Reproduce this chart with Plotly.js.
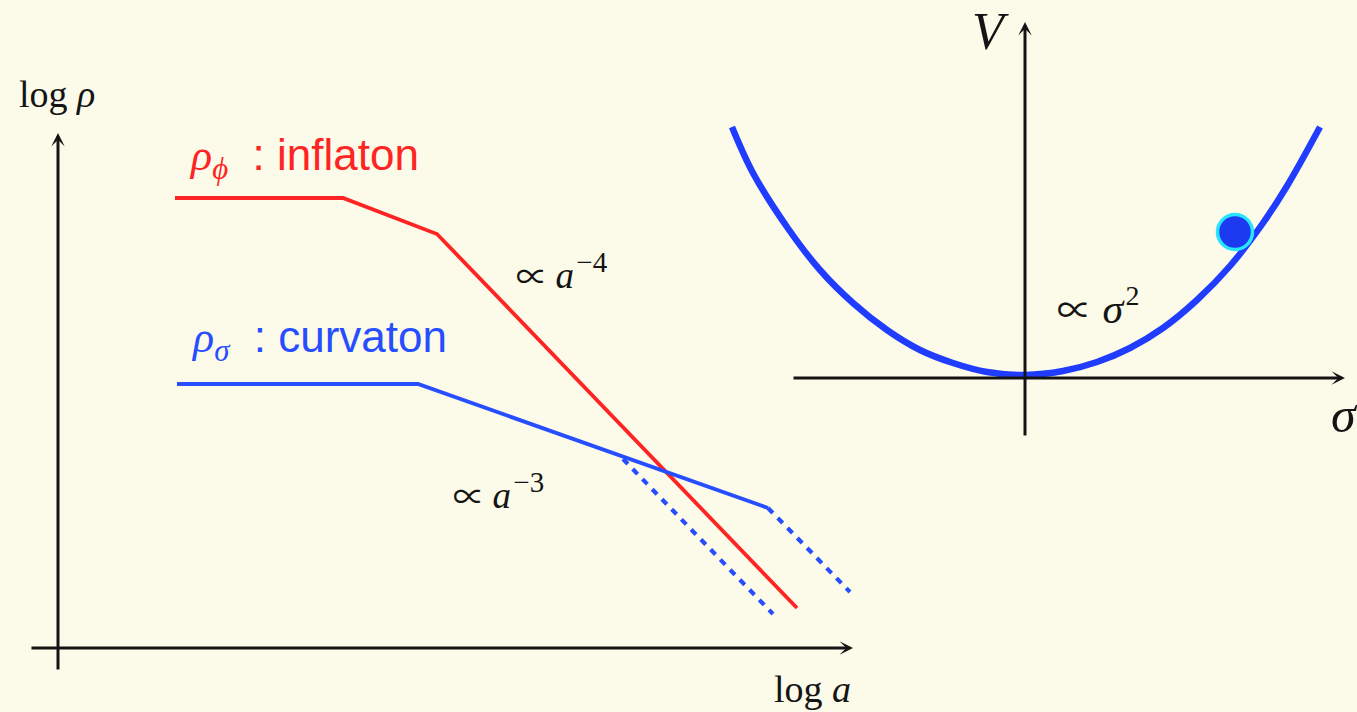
<!DOCTYPE html>
<html>
<head>
<meta charset="utf-8">
<script src="https://cdn.plot.ly/plotly-3.0.1.min.js"></script>
<style>
  html, body { margin: 0; padding: 0; background: #fcfae8; }
  #chart { width: 1357px; height: 712px; }
</style>
</head>
<body>
<div id="chart"></div>
<script>
// ---------- Left panel: log rho vs log a (schematic values) ----------
const inflatonLogA   = [1.17, 2.85, 3.79, 7.39];
const inflatonLogRho = [4.50, 4.50, 4.14, 0.40];

const curvatonLogA   = [1.19, 3.60, 7.10];
const curvatonLogRho = [2.64, 2.64, 1.40];

const curvatonLateLogA   = [7.10, 7.92];
const curvatonLateLogRho = [1.40, 0.56];

const curvatonEarlyLogA   = [5.65, 7.15];
const curvatonEarlyLogRho = [1.89, 0.34];

// ---------- Right panel: potential V(sigma) ----------
const sigmaVals     = [-2.93, -2.72, -2.38, -2.05, -1.72, -1.38, -1.05, -0.72, -0.38, 0.00, 0.38, 0.72, 1.05, 1.38, 1.72, 2.05, 2.38, 2.62, 2.95];
const potentialVals = [ 2.51,  2.05,  1.51,  1.08,  0.75,  0.48,  0.28,  0.15,  0.06, 0.03, 0.07, 0.16, 0.30, 0.50, 0.78, 1.12, 1.55, 1.92, 2.51];

const ballSigma = [2.10];
const ballV     = [1.46];

// ---------- Colours ----------
const RED = 'rgb(255,36,36)';
const BLUE = 'rgb(38,78,255)';
const PBLUE = 'rgb(32,60,255)';
const INK = '#141414';
const SERIF = 'Liberation Serif, DejaVu Serif, serif';
const SANS = 'Liberation Sans, Arial, sans-serif';

const traces = [
  { x: inflatonLogA, y: inflatonLogRho, mode: 'lines', line: { color: RED, width: 3.8 }, xaxis: 'x', yaxis: 'y', hoverinfo: 'skip' },
  { x: curvatonLogA, y: curvatonLogRho, mode: 'lines', line: { color: BLUE, width: 3.8 }, xaxis: 'x', yaxis: 'y', hoverinfo: 'skip' },
  { x: curvatonLateLogA, y: curvatonLateLogRho, mode: 'lines', line: { color: BLUE, width: 4.2, dash: '7px,7px' }, xaxis: 'x', yaxis: 'y', hoverinfo: 'skip' },
  { x: curvatonEarlyLogA, y: curvatonEarlyLogRho, mode: 'lines', line: { color: BLUE, width: 4.2, dash: '7px,7px' }, xaxis: 'x', yaxis: 'y', hoverinfo: 'skip' },
  { x: sigmaVals, y: potentialVals, mode: 'lines', line: { color: PBLUE, width: 6.5, shape: 'spline', smoothing: 1 }, xaxis: 'x2', yaxis: 'y2', hoverinfo: 'skip' },
  { x: ballSigma, y: ballV, mode: 'markers', marker: { size: 35, color: 'rgb(28,58,240)', line: { color: 'rgb(40,228,255)', width: 3.5 } }, xaxis: 'x2', yaxis: 'y2', hoverinfo: 'skip' }
];

function arrow(xref, yref, tail, tip) {
  return {
    xref: xref, yref: yref, axref: xref, ayref: yref,
    x: tip[0], y: tip[1], ax: tail[0], ay: tail[1],
    showarrow: true, arrowhead: 3, arrowsize: 0.75, arrowwidth: 3,
    arrowcolor: INK, standoff: 0, text: '', font: { size: 12 }
  };
}

function label(xref, yref, x, y, text, font, xanchor) {
  return {
    xref: xref, yref: yref, x: x, y: y, text: text, showarrow: false,
    xanchor: xanchor || 'center', yanchor: 'middle', font: font
  };
}

function power(base, exp, supSize, gap, propSize) {
  return '<span style="font-family:Noto Sans CJK JP,DejaVu Sans,sans-serif;font-size:' + propSize + 'px">∝</span>' + gap +
    '<i>' + base + '</i><sup><span style="font-size:' + supSize + 'px">\u200a' + exp + '</span></sup>';
}

const annotations = [
  // axes of left panel
  arrow('x', 'y', [-0.28, 0], [7.95, 0]),
  arrow('x', 'y', [0, -0.23], [0, 5.15]),
  // axes of right panel
  arrow('x2', 'y2', [-2.33, 0], [3.20, 0]),
  arrow('x2', 'y2', [0, -0.59], [0, 3.56]),

  label('x', 'y', -0.01, 5.54, 'log <i>ρ</i>', { family: SERIF, size: 38, color: INK }),
  label('x', 'y', 7.54, -0.41, 'log <i>a</i>', { family: SERIF, size: 38, color: INK }),

  label('x', 'y', 1.29, 4.90,
    '<span style="font-family:Liberation Serif,serif"><i>ρ</i><sub><i>ϕ</i></sub></span>\u00a0\u00a0: inflaton',
    { family: SANS, size: 44, color: RED }, 'left'),
  label('x', 'y', 1.31, 3.08,
    '<span style="font-family:Liberation Serif,serif"><i>ρ</i><sub><i>σ</i></sub></span>\u00a0\u00a0: curvaton',
    { family: SANS, size: 44, color: BLUE }, 'left'),

  label('x', 'y', 4.56, 3.77, power('a', '−4', 29, '\u2009', 32), { family: SERIF, size: 37, color: INK }, 'left'),
  label('x', 'y', 3.93, 1.57, power('a', '−3', 29, '\u2009', 32), { family: SERIF, size: 37, color: INK }, 'left'),

  label('x2', 'y2', -0.35, 3.47, '<i>V</i>', { family: SERIF, size: 52, color: INK }),
  label('x2', 'y2', 3.19, -0.37, '<i>σ</i>', { family: SERIF, size: 50, color: INK }),
  label('x2', 'y2', 0.30, 0.72, power('σ', '2', 28, '\u2005', 35), { family: SERIF, size: 42, color: INK }, 'left')
];

const layout = {
  width: 1357, height: 712,
  margin: { l: 0, r: 0, t: 0, b: 0 },
  paper_bgcolor: '#fcfae8',
  plot_bgcolor: 'rgba(0,0,0,0)',
  showlegend: false,
  xaxis:  { domain: [0, 900 / 1357], range: [-0.58, 8.42], visible: false, anchor: 'y' },
  yaxis:  { domain: [0, 1], range: [-0.64, 6.48], visible: false, anchor: 'x' },
  xaxis2: { domain: [720 / 1357, 1], range: [-3.05, 3.32], visible: false, anchor: 'y2' },
  yaxis2: { domain: [0, 1], range: [-3.34, 3.78], visible: false, anchor: 'x2' },
  annotations: annotations
};

Plotly.newPlot('chart', traces, layout, { staticPlot: true, displayModeBar: false });
</script>
</body>
</html>
